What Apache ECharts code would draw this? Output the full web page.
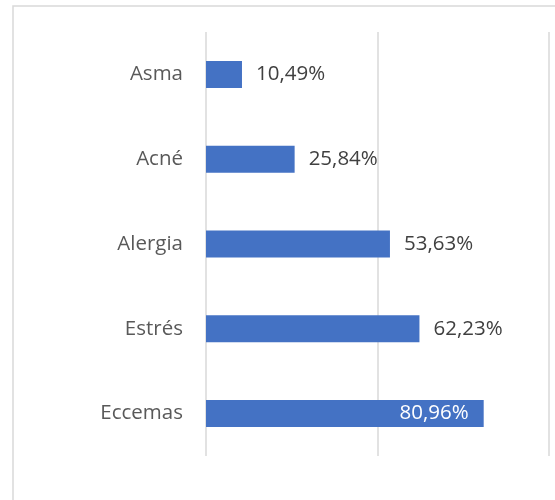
<!DOCTYPE html>
<html>
<head>
<meta charset="utf-8">
<script src="https://cdn.jsdelivr.net/npm/echarts@6/dist/echarts.min.js"></script>
<style>
html,body{margin:0;padding:0;background:#fff;}
#chart{width:555px;height:500px;}
</style>
</head>
<body>
<div id="chart"></div>
<script>
const categories = ['Asma', 'Acné', 'Alergia', 'Estrés', 'Eccemas'];
const values = [10.49, 25.84, 53.63, 62.23, 80.96];
const insideLabelIndex = 4;

const fmt = v => v.toFixed(2).replace('.', ',') + '%';
const FONT = '"Open Sans", sans-serif';

const chart = echarts.init(document.getElementById('chart'), null, {renderer: 'canvas'});
chart.setOption({
  animation: false,
  backgroundColor: '#ffffff',
  graphic: [{
    type: 'rect',
    shape: {x: 13, y: 6, width: 700, height: 700},
    style: {fill: 'none', stroke: '#d9d9d9', lineWidth: 1.5},
    silent: true, z: -10
  }],
  grid: {left: 206, right: 6, top: 32, bottom: 44, containLabel: false},
  xAxis: {
    type: 'value', min: 0, max: 100, interval: 50,
    axisLabel: {show: false}, axisLine: {show: false}, axisTick: {show: false},
    splitLine: {show: true, lineStyle: {color: '#d9d9d9', width: 1.5}}
  },
  yAxis: {
    type: 'category', data: categories, inverse: true,
    axisLine: {show: false}, axisTick: {show: false},
    axisLabel: {margin: 23, color: '#595959', fontSize: 20.5, fontFamily: FONT}
  },
  series: [{
    type: 'bar',
    barWidth: 27,
    itemStyle: {color: '#4472C4'},
    data: values.map((v, i) => ({
      value: v,
      label: i === insideLabelIndex
        ? {show: true, position: 'insideRight', distance: 15, color: '#ffffff'}
        : {show: true, position: 'right', distance: 14, color: '#404040'}
    })),
    label: {show: true, fontSize: 20.5, fontFamily: FONT, formatter: p => fmt(p.value)}
  }]
});
</script>
</body>
</html>
